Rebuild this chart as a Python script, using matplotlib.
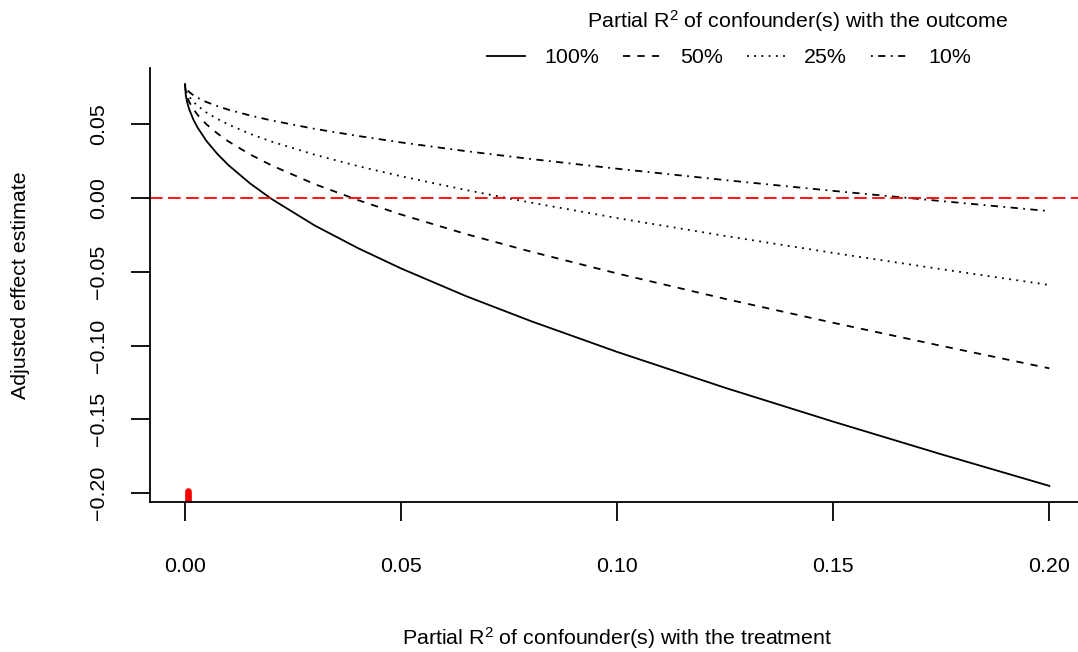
import matplotlib
matplotlib.use("Agg")
import matplotlib.pyplot as plt

plt.rcParams['font.family'] = ['Liberation Sans', 'DejaVu Sans']
plt.rcParams['mathtext.fontset'] = 'custom'
plt.rcParams['mathtext.rm'] = 'Liberation Sans'
plt.rcParams['mathtext.it'] = 'Liberation Sans:italic'
plt.rcParams['mathtext.bf'] = 'Liberation Sans:bold'

# partial R2 of confounder(s) with the treatment (x axis)
r2dz_x = [0, 0.0002, 0.0005, 0.001, 0.002, 0.003, 0.005, 0.0075, 0.01, 0.015,
          0.02, 0.03, 0.04, 0.05, 0.065, 0.08, 0.1, 0.125, 0.15, 0.175, 0.2]

# adjusted effect estimate
est_100 = [0.0770, 0.0693, 0.0648, 0.0598, 0.0526, 0.0472, 0.0384, 0.0297,
           0.0223, 0.0099, -0.0007, -0.0187, -0.0340, -0.0478, -0.0665,
           -0.0834, -0.1043, -0.1286, -0.1515, -0.1736, -0.1950]
est_50 = [0.0770, 0.0716, 0.0684, 0.0648, 0.0598, 0.0559, 0.0497, 0.0436,
          0.0383, 0.0295, 0.0220, 0.0093, -0.0015, -0.0113, -0.0245,
          -0.0364, -0.0512, -0.0684, -0.0846, -0.1002, -0.1154]
est_25 = [0.0770, 0.0732, 0.0709, 0.0684, 0.0648, 0.0621, 0.0577, 0.0534,
          0.0497, 0.0434, 0.0381, 0.0292, 0.0215, 0.0146, 0.0053,
          -0.0032, -0.0137, -0.0258, -0.0373, -0.0483, -0.0590]
est_10 = [0.0770, 0.0746, 0.0732, 0.0716, 0.0693, 0.0676, 0.0648, 0.0621,
          0.0597, 0.0558, 0.0524, 0.0467, 0.0419, 0.0375, 0.0316,
          0.0263, 0.0197, 0.0120, 0.0047, -0.0022, -0.0090]

curve_labels = ["100%", "50%", "25%", "10%"]
x_ticks = [0.00, 0.05, 0.10, 0.15, 0.20]
y_ticks = [-0.20, -0.15, -0.10, -0.05, 0.00, 0.05]
threshold = 0.0
rug_x = [0.0008]

LW = 1.3
FS = 15.4
styles = ['-', (0, (4, 4)), (0, (1, 3)), (0, (1, 3, 4, 3))]

fig = plt.figure(figsize=(10.78, 6.52), dpi=100)
ax = fig.add_axes([0.1395, 0.2296, 0.866, 0.6666])

for est, lab, ls in zip([est_100, est_50, est_25, est_10], curve_labels, styles):
    ax.plot(r2dz_x, est, color='black', lw=LW, ls=ls, label=lab)

ax.axhline(threshold, color='#ff0000', lw=LW, ls=(0, (7, 3)))
for rx in rug_x:
    ax.axvline(rx, ymin=0, ymax=0.025, color='#ff0000', lw=4.8,
               solid_capstyle='round')

ax.set_xlim(-0.008, 0.208)
ax.set_ylim(-0.2061, 0.0881)
ax.set_xticks(x_ticks)
ax.set_xticklabels([f"{v:.2f}" for v in x_ticks])
ax.set_yticks(y_ticks)
ax.set_yticklabels([f"{v:.2f}".replace('-', '\u2212') for v in y_ticks])

for side in ['top', 'right']:
    ax.spines[side].set_visible(False)
for side in ['left', 'bottom']:
    ax.spines[side].set_linewidth(LW)

ax.tick_params(axis='both', direction='out', length=13.7, width=LW,
               labelsize=FS)
ax.tick_params(axis='x', pad=26.0)
ax.tick_params(axis='y', pad=17.0, labelrotation=90)
for lab in ax.get_yticklabels():
    lab.set_va('center')

ax.set_xlabel(r"Partial R$^2$ of confounder(s) with the treatment", fontsize=FS)
ax.xaxis.label.set_va('baseline')
ax.xaxis.set_label_coords(0.5, -0.329)
ax.set_ylabel("Adjusted effect estimate", fontsize=FS)
ax.yaxis.label.set(rotation_mode='anchor', va='baseline', ha='center')
ax.yaxis.set_label_coords(-0.133, 0.5)

ax.legend(ncol=4, loc='center left', bbox_to_anchor=(487 / 1078, 1 - 57.5 / 652),
          bbox_transform=fig.transFigure, frameon=False, fontsize=FS,
          handlelength=1.78, handletextpad=0.89, columnspacing=1.12,
          borderpad=0, borderaxespad=0)
fig.text(798 / 1078, 1 - 27.3 / 652,
         r"Partial R$^2$ of confounder(s) with the outcome",
         ha='center', va='baseline', fontsize=FS)

fig.savefig("out.png", dpi=100)
